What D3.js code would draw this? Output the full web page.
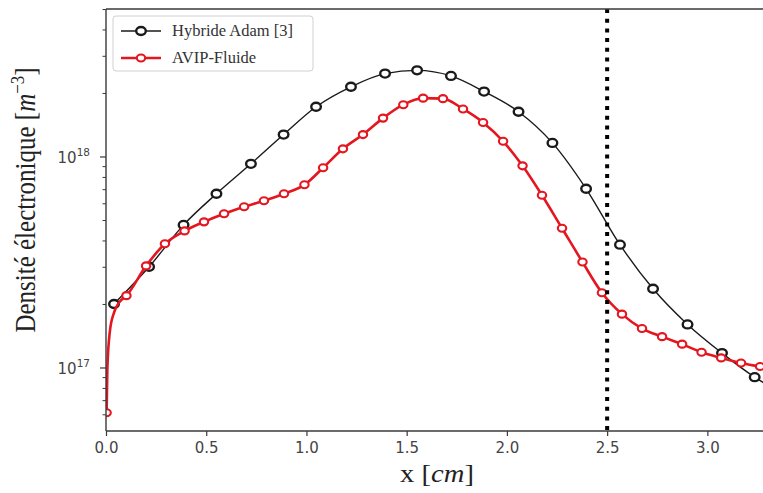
<!DOCTYPE html>
<html><head><meta charset="utf-8">
<script src="https://cdn.jsdelivr.net/npm/d3@7"></script>
<style>html,body{margin:0;padding:0;background:#fff;}svg{display:block;}</style>
</head><body>
<svg id="chart" width="763" height="493"></svg>
<script>
// ---- data (x in cm, density in m^-3) ----
const hybridX = [0.040,0.215,0.387,0.551,0.723,0.886,1.048,1.222,1.392,1.552,1.721,1.886,2.058,2.227,2.395,2.564,2.729,2.901,3.073,3.236];
const hybridY = [2.0e17,3.0e17,4.74e17,6.66e17,9.23e17,1.27e18,1.72e18,2.14e18,2.47e18,2.56e18,2.41e18,2.03e18,1.63e18,1.16e18,7.03e17,3.82e17,2.36e17,1.60e17,1.17e17,9.0e16];
// line continues past the visible edge
const hybridTailX = [3.40];
const hybridTailY = [7.3e16];

const avipX = [0.003,0.102,0.200,0.294,0.392,0.489,0.589,0.689,0.788,0.888,0.990,1.083,1.182,1.282,1.382,1.483,1.582,1.681,1.781,1.881,1.981,2.078,2.175,2.275,2.377,2.474,2.574,2.674,2.774,2.874,2.971,3.069,3.168,3.263];
const avipY = [6.1e16,2.19e17,3.03e17,3.86e17,4.44e17,4.90e17,5.35e17,5.78e17,6.17e17,6.66e17,7.34e17,8.84e17,1.087e18,1.27e18,1.52e18,1.76e18,1.89e18,1.88e18,1.68e18,1.45e18,1.18e18,9.03e17,6.55e17,4.57e17,3.16e17,2.26e17,1.79e17,1.53e17,1.40e17,1.29e17,1.18e17,1.11e17,1.05e17,1.01e17];
// unmarked points of the AVIP line (steep start and continuation)
const avipLineX = [0.007,0.020,0.040,0.065,3.36];
const avipLineY = [1.0e17,1.5e17,1.82e17,2.03e17,0.98e17];

const xTicks = [0.0,0.5,1.0,1.5,2.0,2.5,3.0];
const yMajorTicks = [1e17,1e18];
const yMinorTicks = [6e16,7e16,8e16,9e16,2e17,3e17,4e17,5e17,6e17,7e17,8e17,9e17,2e18,3e18,4e18,5e18];
const seriesNames = ["Hybride Adam [3]","AVIP-Fluide"];
const interfaceX = 2.5;

// ---- layout ----
const L = 106, R = 763, T = 9, B = 431;
const svg = d3.select("#chart");
const x = d3.scaleLinear().domain([0, 3.2775]).range([L, R]);
const y = d3.scaleLog().domain([5e16, 5e18]).range([B, T]);

svg.append("defs").append("clipPath").attr("id","clip")
  .append("rect").attr("x",L).attr("y",T).attr("width",R-L).attr("height",B-T);

const black = "#1a1a1a", red = "#e4161f", axisCol = "#3a3a3a", tickTxt = "#444";

const g = svg.append("g").attr("clip-path","url(#clip)");

const line = d3.line().x(d=>x(d[0])).y(d=>y(d[1])).curve(d3.curveMonotoneX);

const hyb = hybridX.map((v,i)=>[v,hybridY[i]]);
const hybLine = hyb.concat(hybridTailX.map((v,i)=>[v,hybridTailY[i]])).sort((a,b)=>a[0]-b[0]);
const avp = avipX.map((v,i)=>[v,avipY[i]]);
const avpLine = avp.concat(avipLineX.map((v,i)=>[v,avipLineY[i]])).sort((a,b)=>a[0]-b[0]);

g.append("path").attr("d",line(hybLine)).attr("fill","none").attr("stroke",black).attr("stroke-width",1.4);
g.selectAll("ellipse.h").data(hyb).enter().append("ellipse").attr("class","h")
  .attr("cx",d=>x(d[0])).attr("cy",d=>y(d[1])).attr("rx",4.8).attr("ry",4.0)
  .attr("fill","#fff").attr("stroke",black).attr("stroke-width",2.4);

g.append("path").attr("d",line(avpLine)).attr("fill","none").attr("stroke",red).attr("stroke-width",2.6);
g.selectAll("ellipse.a").data(avp).enter().append("ellipse").attr("class","a")
  .attr("cx",d=>x(d[0])).attr("cy",d=>y(d[1])).attr("rx",4.2).attr("ry",3.5)
  .attr("fill","#fff").attr("stroke",red).attr("stroke-width",2.1);

// vertical dotted line at x = 2.5
svg.append("line").attr("x1",x(interfaceX)).attr("x2",x(interfaceX)).attr("y1",T).attr("y2",B)
  .attr("stroke","#000").attr("stroke-width",4).attr("stroke-dasharray","4,5.7");

// ---- axes ----
const xAxis = d3.axisBottom(x).tickValues(xTicks).tickFormat(d3.format(".1f")).tickSize(5).tickPadding(6);
const gx = svg.append("g").attr("transform",`translate(0,${B})`).call(xAxis);
gx.select(".domain").remove();
gx.selectAll(".tick line").attr("stroke",axisCol).attr("stroke-width",1.2);
gx.selectAll(".tick text").attr("fill",tickTxt).attr("font-family","DejaVu Sans").attr("font-size",15);

const yAxisMinor = d3.axisLeft(y).tickValues(yMinorTicks).tickFormat("").tickSize(3.5);
const gym = svg.append("g").attr("transform",`translate(${L},0)`).call(yAxisMinor);
gym.select(".domain").remove();
gym.selectAll(".tick line").attr("stroke",axisCol).attr("stroke-width",1);

const yAxis = d3.axisLeft(y).tickValues(yMajorTicks).tickFormat("").tickSize(6);
const gy = svg.append("g").attr("transform",`translate(${L},0)`).call(yAxis);
gy.select(".domain").remove();
gy.selectAll(".tick line").attr("stroke",axisCol).attr("stroke-width",1.2);
gy.selectAll(".tick").each(function(d){
  const t = d3.select(this).append("text").attr("x",-16).attr("y",6)
    .attr("text-anchor","end").attr("fill",tickTxt).attr("font-family","DejaVu Sans").attr("font-size",15);
  t.append("tspan").text("10");
  t.append("tspan").attr("dy",-7).attr("font-size",10.5).text(String(Math.round(Math.log10(d))));
});

// spines
svg.append("line").attr("x1",L).attr("x2",L).attr("y1",T).attr("y2",B).attr("stroke",axisCol).attr("stroke-width",1.4);
svg.append("line").attr("x1",L).attr("x2",R).attr("y1",B).attr("y2",B).attr("stroke",axisCol).attr("stroke-width",1.4);
svg.append("line").attr("x1",L).attr("x2",R).attr("y1",T).attr("y2",T).attr("stroke",axisCol).attr("stroke-width",1.4);

// ---- axis labels ----
const xl = svg.append("text").attr("transform","translate(437,482) scale(1.1,1)").attr("text-anchor","middle")
  .attr("font-family","Liberation Serif").attr("font-size",26).attr("fill","#222");
xl.append("tspan").text("x [");
xl.append("tspan").attr("font-style","italic").text("cm");
xl.append("tspan").text("]");

const yl = svg.append("text").attr("transform","translate(35,200) scale(1.15,1) rotate(-90)").attr("text-anchor","middle")
  .attr("font-family","Liberation Serif").attr("font-size",25).attr("fill","#222");
yl.append("tspan").text("Densité électronique [");
yl.append("tspan").attr("font-style","italic").text("m");
yl.append("tspan").attr("dy",-10).attr("font-size",17).text("−3");
yl.append("tspan").attr("dy",10).text("]");

// ---- legend ----
const lg = svg.append("g");
lg.append("rect").attr("x",113).attr("y",16).attr("width",200).attr("height",55).attr("rx",3)
  .attr("fill","#fff").attr("fill-opacity",0.85).attr("stroke","#d0d0d0").attr("stroke-width",1);
const legendRows = [{name:seriesNames[0],col:black,lw:1.4,rx:4.8,ry:4.0,sw:2.4,yy:31},
                    {name:seriesNames[1],col:red,lw:2.6,rx:4.2,ry:3.5,sw:2.1,yy:58}];
legendRows.forEach(r=>{
  lg.append("line").attr("x1",121).attr("x2",161).attr("y1",r.yy).attr("y2",r.yy).attr("stroke",r.col).attr("stroke-width",r.lw);
  lg.append("ellipse").attr("cx",141).attr("cy",r.yy).attr("rx",r.rx).attr("ry",r.ry).attr("fill","#fff").attr("stroke",r.col).attr("stroke-width",r.sw);
  lg.append("text").attr("x",172).attr("y",r.yy+5).attr("font-family","Liberation Serif").attr("font-size",16.5).attr("fill","#333").text(r.name);
});
</script>
</body></html>
